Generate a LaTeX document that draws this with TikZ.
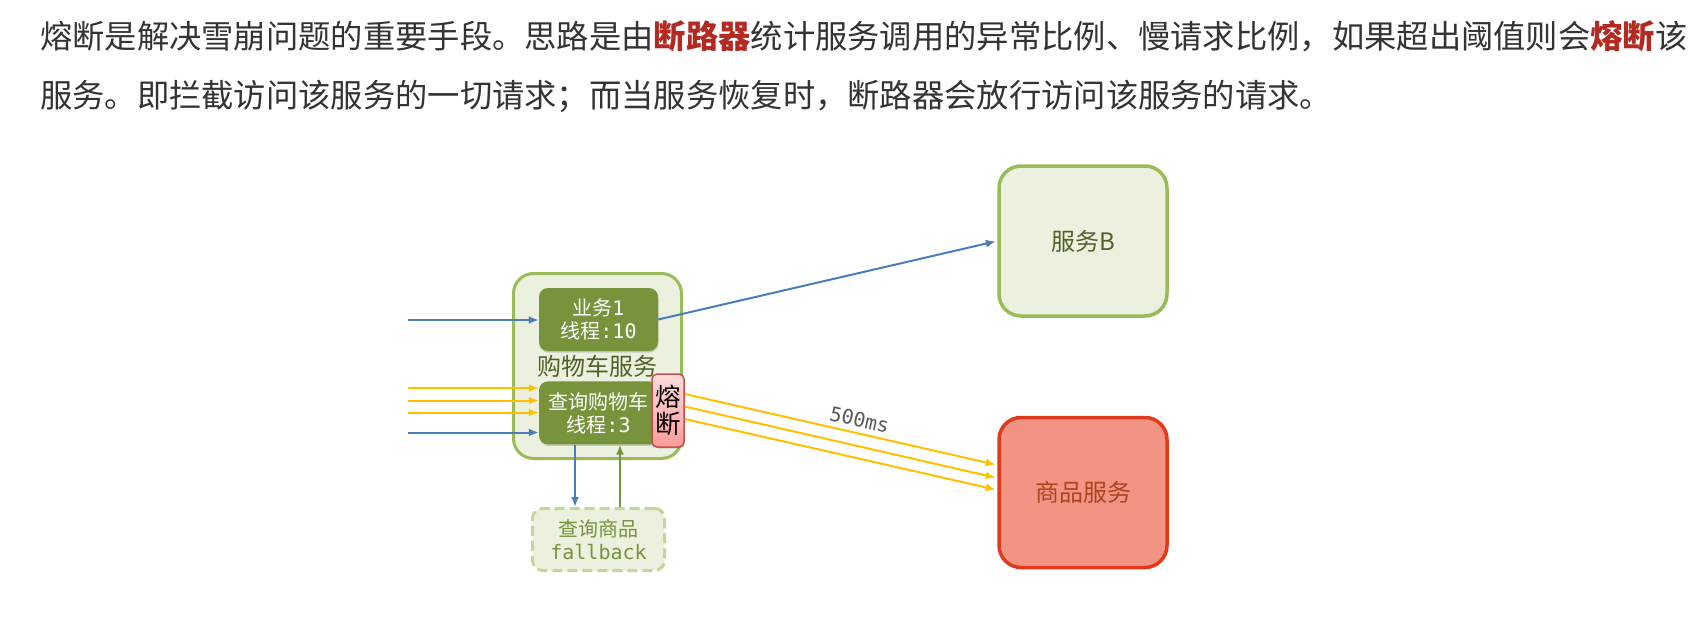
\documentclass[tikz,border=0pt]{standalone}
\usepackage{fontspec}
\setmainfont{Noto Sans CJK SC}
\setmonofont{DejaVu Sans Mono}
\usepackage{tikz}
\usetikzlibrary{arrows.meta, positioning, shadows, calc}

\definecolor{textgrey}{HTML}{333333}
\definecolor{keyred}{HTML}{B22A22}
\definecolor{olivefill}{HTML}{EBF1DE}
\definecolor{oliveline}{HTML}{9BBB59}
\definecolor{olivemid}{HTML}{77933C}
\definecolor{olivedark}{HTML}{4F6228}
\definecolor{paleline}{HTML}{C3D69B}
\definecolor{callblue}{HTML}{4A7EBB}
\definecolor{callyellow}{HTML}{FFC000}
\definecolor{goodsfill}{HTML}{F29484}
\definecolor{goodsline}{HTML}{E0391B}
\definecolor{goodstext}{HTML}{A8451F}
\definecolor{fusetop}{HTML}{FFDCDC}
\definecolor{fusebottom}{HTML}{FF9B9B}
\definecolor{fuseline}{HTML}{C0504D}
\definecolor{delaygrey}{HTML}{595959}

\begin{document}
\begin{tikzpicture}[x=1pt, y=-1pt,
        svc/.style={rectangle, draw=oliveline, fill=olivefill, line width=3.5pt, rounded corners=22pt, minimum width=168pt, minimum height=150pt, inner sep=0pt, text=olivedark, font=\fontsize{24}{28}\selectfont},
        task/.style={rectangle, fill=olivemid, text=white, rounded corners=9pt, minimum width=119pt, minimum height=63pt, inner sep=0pt, align=center, font=\fontsize{20}{23}\selectfont, drop shadow={shadow xshift=0.5pt, shadow yshift=-1.5pt, opacity=0.35}},
        fuse/.style={rectangle, draw=fuseline, line width=1.5pt, top color=fusetop, bottom color=fusebottom, rounded corners=5pt, minimum width=32pt, minimum height=73pt, inner sep=0pt, align=center, font=\fontsize{25.5}{27}\selectfont, drop shadow={shadow xshift=1pt, shadow yshift=-1.5pt, opacity=0.3}},
        fallbk/.style={rectangle, draw=paleline, dash pattern=on 10pt off 5pt, line width=3pt, fill=olivefill, rounded corners=10pt, minimum width=132pt, minimum height=62pt, inner sep=0pt, align=center, text=olivemid, font=\fontsize{20}{23}\selectfont},
        line/.style={draw, -{Latex[length=10pt, width=8pt]}, line width=2pt},
        call/.style={line, callblue},
        burst/.style={line, callyellow}]

    \fill [white] (0,0) rectangle (1703,634);
    \useasboundingbox (0,0) rectangle (1703,634);

    % text above the picture
    \node [anchor=base west, inner sep=0pt, text=textgrey, font=\fontsize{32.3}{40}\selectfont] (intro1) at (40,49) {熔断是解决雪崩问题的重要手段。思路是由\textcolor{keyred}{\textbf{断路器}}统计服务调用的异常比例、慢请求比例，如果超出阈值则会\textcolor{keyred}{\textbf{熔断}}该};
    \node [anchor=base west, inner sep=0pt, text=textgrey, font=\fontsize{32.3}{40}\selectfont] (intro2) at (40,107) {服务。即拦截访问该服务的一切请求；而当服务恢复时，断路器会放行访问该服务的请求。};

    % cart service
    \node [svc, line width=3pt, rounded corners=20pt, minimum width=168pt, minimum height=185pt] (cart) at (597.5,366) {购物车服务};
    \node [task] (biz1) at (598.5,319.5) {业务\texttt{1}\\线程\texttt{:10}};
    \node [task, below=30pt of biz1] (query) {查询购物车\\线程\texttt{:3}};
    \node [fuse] (fuse) at (668,410.5) {熔\\断};
    \node [fallbk] (fallback) at (598.5,539.5) {查询商品\\\texttt{fallback}};

    % other services
    \node [svc] (svcB) at (1083,241) {服务B};
    \node [svc, below=98pt of svcB, draw=goodsline, fill=goodsfill, text=goodstext] (goods) {商品服务};

    % incoming requests
    \coordinate (src0) at (408,320);
    \draw [call] (src0) -- (src0 -| biz1.west);
    \foreach \y [count=\i] in {388,400.5,412.5} {
        \coordinate (src\i) at (408,\y);
        \draw [burst] (src\i) -- (src\i -| query.west);
    }
    \coordinate (src4) at (408,432.5);
    \draw [call] (src4) -- (src4 -| query.west);

    % fallback
    \draw [call] ([xshift=-23.5pt]query.south) -- ([xshift=-23.5pt]fallback.north);
    \draw [line, olivemid] ([xshift=21.5pt]fallback.north) -- ([xshift=21.5pt]query.south);

    % calls out
    \draw [call, shorten >=1.5pt] (biz1.east) -- (svcB.west);
    \foreach \a/\b in {-16.5/-27.5, -4/-14.5, 8.5/-2.5} {
        \draw [burst, shorten >=1.5pt] ($(fuse.east)+(0,\a)$) -- ($(goods.west)+(0,\b)$);
    }
    \path ($(fuse.east)+(0,-16.5)$) -- ($(goods.west)+(0,-27.5)$) node [pos=0.55, above, sloped, inner sep=6pt, text=delaygrey, font=\fontsize{20}{24}\ttfamily] (delay) {500ms};
\end{tikzpicture}
\end{document}
